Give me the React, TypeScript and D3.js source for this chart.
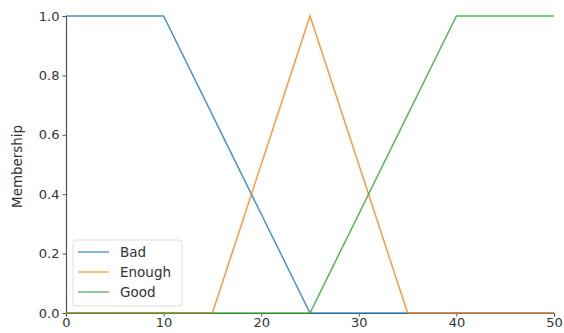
import React, { useEffect, useRef } from "react";
import * as d3 from "d3";

// membership functions: x breakpoints and membership values
const seriesNames = ["Bad", "Enough", "Good"];
const seriesColors = ["#1f77b4", "#ff7f0e", "#2ca02c"];
const badX = [0, 10, 25, 50];
const badY = [1, 1, 0, 0];
const enoughX = [0, 15, 25, 35, 50];
const enoughY = [0, 0, 1, 0, 0];
const goodX = [0, 25, 40, 50];
const goodY = [0, 0, 1, 1];
const xTicks = [0, 10, 20, 30, 40, 50];
const yTicks = [0, 0.2, 0.4, 0.6, 0.8, 1.0];

const App = () => {
  const ref = useRef<SVGSVGElement>(null);

  useEffect(() => {
    const svg = d3.select(ref.current);
    svg.selectAll("*").remove();

    const x = d3.scaleLinear().domain([0, 50]).range([66, 554]);
    const y = d3.scaleLinear().domain([0, 1]).range([313, 16]);

    const font = "'DejaVu Sans', sans-serif";
    const tickColor = "#333";
    const fs = "13px";

    // x axis
    const gx = svg
      .append("g")
      .attr("transform", `translate(0,${y(0)})`)
      .call(
        d3
          .axisBottom(x)
          .tickValues(xTicks)
          .tickFormat(d3.format("d"))
          .tickSizeOuter(0)
          .tickSize(3.5)
          .tickPadding(1.5)
      );
    gx.select(".domain").attr("stroke", "#555").attr("stroke-width", 1.2);
    gx.selectAll("line").attr("stroke", "#555");
    gx.selectAll("text")
      .attr("font-family", font)
      .attr("font-size", fs)
      .attr("fill", tickColor);

    // y axis
    const gy = svg
      .append("g")
      .attr("transform", `translate(${x(0)},0)`)
      .call(
        d3
          .axisLeft(y)
          .tickValues(yTicks)
          .tickFormat(d3.format(".1f"))
          .tickSizeOuter(0)
          .tickSize(3.5)
          .tickPadding(3)
      );
    gy.select(".domain").attr("stroke", "#555").attr("stroke-width", 1.2);
    gy.selectAll("line").attr("stroke", "#555");
    gy.selectAll("text")
      .attr("font-family", font)
      .attr("font-size", fs)
      .attr("fill", tickColor);

    // y label
    svg
      .append("text")
      .attr("transform", `translate(22,${(y(0) + y(1)) / 2 + 2}) rotate(-90)`)
      .attr("text-anchor", "middle")
      .attr("font-family", font)
      .attr("font-size", "13.4px")
      .attr("fill", tickColor)
      .text("Membership");

    // lines
    const line = d3
      .line<[number, number]>()
      .x((d) => x(d[0]))
      .y((d) => y(d[1]));
    const data = [
      d3.zip(badX, badY) as [number, number][],
      d3.zip(enoughX, enoughY) as [number, number][],
      d3.zip(goodX, goodY) as [number, number][],
    ];
    svg
      .append("g")
      .selectAll("path")
      .data(data)
      .join("path")
      .attr("d", (d) => line(d))
      .attr("fill", "none")
      .attr("stroke", (_, i) => seriesColors[i])
      .attr("stroke-width", 1.5)
      .attr("stroke-opacity", 0.8);

    // legend
    const lg = svg.append("g").attr("transform", "translate(73,240)");
    lg.append("rect")
      .attr("width", 109)
      .attr("height", 66)
      .attr("rx", 3)
      .attr("fill", "white")
      .attr("fill-opacity", 0.8)
      .attr("stroke", "#ddd");
    seriesNames.forEach((name, i) => {
      const cy = 12 + i * 20;
      lg.append("line")
        .attr("x1", 5)
        .attr("x2", 36)
        .attr("y1", cy)
        .attr("y2", cy)
        .attr("stroke", seriesColors[i])
        .attr("stroke-width", 1.5)
        .attr("stroke-opacity", 0.7);
      lg.append("text")
        .attr("x", 47)
        .attr("y", cy)
        .attr("dy", "0.35em")
        .attr("font-family", font)
        .attr("font-size", "13.5px")
        .attr("fill", tickColor)
        .text(name);
    });
  }, []);

  return (
    <svg
      ref={ref}
      width={564}
      height={333}
      style={{ position: "absolute", left: 0, top: 0, background: "white" }}
    />
  );
};

export default App;
